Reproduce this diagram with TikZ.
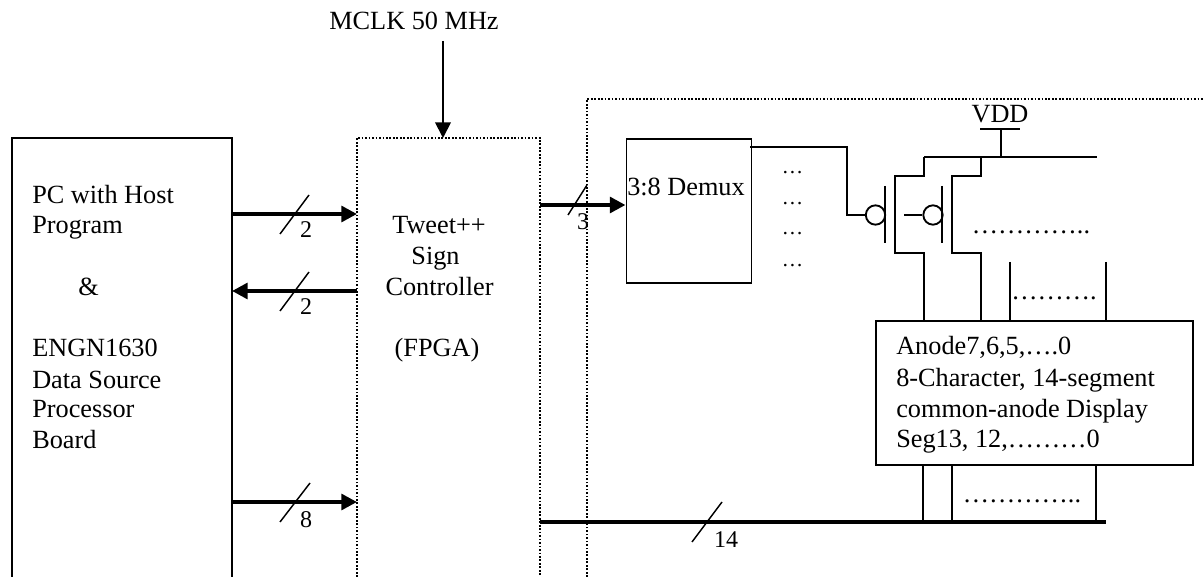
\documentclass[tikz,border=0pt]{standalone}
\usepackage{fontspec}
\setmainfont{Liberation Serif}
\usetikzlibrary{arrows.meta}
\tikzset{
 x=0.75pt,y=-0.75pt,
 thin line/.style={line width=1.4pt,line join=miter},
 bus/.style={line width=3.2pt},
 sig/.style={bus,-{Triangle[length=11.8pt,width=11.8pt]}},
 dot box/.style={line width=1.3pt,dash pattern=on 1.3pt off 1.3pt},
 lab/.style={inner sep=0pt,anchor=base,font=\fontsize{19.7}{20}\selectfont},
 labl/.style={lab,anchor=base west},
 small/.style={lab,font=\fontsize{18}{18}\selectfont},
 block/.style={draw,line width=1.4pt,inner sep=0pt,minimum width=0pt},
 bub/.style={circle,draw,line width=1.4pt,inner sep=0pt,minimum size=14.5pt},
 slash/.style={line width=1.1pt},
 dots/.style={lab,font=\fontsize{16}{16}\selectfont},
 longdots/.style={lab},
}
\begin{document}
\begin{tikzpicture}
\useasboundingbox (0,0) rectangle (1204,577);
% open boxes
\coordinate (pcbl) at (12,577); \coordinate (pctl) at (12,138); \coordinate (pctr) at (232,138); \coordinate (pcbr) at (232,577);
\coordinate (cbl) at (357,577); \coordinate (ctl) at (357,138); \coordinate (ctr) at (540,138); \coordinate (cbr) at (540,577);
\coordinate (obl) at (587,577); \coordinate (otl) at (587,99); \coordinate (otr) at (1204,99);
\draw[thin line] (pcbl) -- (pctl) -- (pctr) -- (pcbr);
\draw[dot box] (cbl) -- (ctl) -- (ctr) -- (cbr);
\draw[dot box] (obl) -- (otl) -- (otr);
% clock
\node[lab] (mclk) at (414,29.5) {MCLK 50 MHz};
\coordinate (mclka) at (443,41);
\coordinate (mclkb) at (443,138);
\draw[thin line,-{Triangle[length=11.8pt,width=11.8pt]}] (mclka) -- (mclkb);
% PC text
\node[labl] (t1) at (32,204) {PC with Host};
\node[labl] (t2) at (32,234) {Program};
\node[labl] (t3) at (78,296) {\&};
\node[labl] (t4) at (32,357) {ENGN1630};
\node[labl] (t5) at (32,388) {Data Source};
\node[labl] (t6) at (32,418) {Processor};
\node[labl] (t7) at (32,449) {Board};
% controller text
\node[lab] (c1) at (439,234) {Tweet++};
\node[lab] (c2) at (435.5,265) {Sign};
\node[lab] (c3) at (439.5,296) {Controller};
\node[lab] (c4) at (437,357) {(FPGA)};
% arrows
\coordinate (a1s) at (232,214); \coordinate (a1e) at (357,214);
\coordinate (a2s) at (357,291); \coordinate (a2e) at (232,291);
\coordinate (a3s) at (232,502); \coordinate (a3e) at (357,502);
\draw[sig] (a1s) -- (a1e);
\draw[sig] (a2s) -- (a2e);
\draw[sig] (a3s) -- (a3e);
\coordinate (s1a) at (280,234); \coordinate (s1b) at (309,195);
\coordinate (s2a) at (280,311); \coordinate (s2b) at (309,272);
\coordinate (s3a) at (280,522); \coordinate (s3b) at (310,483);
\draw[slash] (s1a) -- (s1b);
\draw[slash] (s2a) -- (s2b);
\draw[slash] (s3a) -- (s3b);
\node[small] (n2a) at (306,238) {2};
\node[small] (n2b) at (306,315) {2};
\node[small] (n8) at (306,527) {8};
% demux
\node[block,minimum width=93.75pt,minimum height=107.6pt,anchor=north west] (demux) at (625.5,138.5) {};
\node[lab] (dmt) at (686,195.5) {3:8 Demux};
\coordinate (a4s) at (540,205);
\draw[sig] (a4s) -- (a4s -| demux.west);
\coordinate (s4a) at (568,215); \coordinate (s4b) at (587,185);
\draw[slash] (s4a) -- (s4b);
\node[small] (n3) at (583,230) {3};
% demux output dots
\node[dots] (d1) at (792.5,174) {…};
\node[dots] (d2) at (792.5,205) {…};
\node[dots] (d3) at (792.5,235) {…};
\node[dots] (d4) at (792.5,267) {…};
% transistors
\coordinate (dout) at (750,147);
\node[bub] (b1) at (875.5,215) {};
\node[bub] (b2) at (933,215) {};
\draw[thin line] (dout) -- (847,147) -- (847,215) -- (b1.west);
\coordinate (g1a) at (885,186); \coordinate (g1b) at (885,243);
\coordinate (g2a) at (942,186); \coordinate (g2b) at (942,243);
\draw[thin line] (g1a) -- (g1b);
\draw[thin line] (g2a) -- (g2b);
\coordinate (st2) at (904,215);
\draw[thin line] (st2) -- (b2.west);
% display
\node[block,minimum width=237.75pt,minimum height=108pt,anchor=north west] (disp) at (875,320) {};
\coordinate (railL) at (924,157); \coordinate (railR) at (1097,157); \coordinate (vddj) at (1001,157); \coordinate (vddt) at (1001,129);
\coordinate (vbl) at (980,129); \coordinate (vbr) at (1020,129);
\draw[line width=1.6pt] (railL) -- (railR);
\draw[thin line] (vddj) -- (vddt);
\draw[thin line] (vbl) -- (vbr);
\node[lab] (vdd) at (1000,123) {VDD};
\coordinate (d1b) at (924,320); \coordinate (d2b) at (981,320);
\coordinate (d2t) at (981,157);
\draw[thin line] (railL) -- (924,176) -- (895,176) -- (895,253) -- (924,253) -- (d1b);
\draw[thin line] (d2t) -- (981,176) -- (952,176) -- (952,253) -- (981,253) -- (d2b);
\coordinate (l3t) at (1010,262); \coordinate (l3b) at (1010,320);
\coordinate (l4t) at (1106,262); \coordinate (l4b) at (1106,320);
\draw[thin line] (l3t) -- (l3b);
\draw[thin line] (l4t) -- (l4b);
\node[longdots] (dd1) at (1031,234) {…………..};
\node[longdots] (dd2) at (1054,300) {……….};
% display text
\node[labl] (e1) at (896,355) {Anode7,6,5,….0};
\node[labl] (e2) at (896,387) {8-Character, 14-segment};
\node[labl] (e3) at (896,417) {common-anode Display};
\node[labl] (e4) at (896,447) {Seg13, 12,………0};
% bus
\coordinate (busl) at (540,522); \coordinate (busr) at (1106,522);
\draw[bus] (busl) -- (busr);
\coordinate (p1) at (923,464); \coordinate (p1b) at (923,522);
\coordinate (p2) at (952,464); \coordinate (p2b) at (952,522);
\coordinate (p3) at (1096,464); \coordinate (p3b) at (1096,522);
\draw[thin line] (p1) -- (p1b);
\draw[thin line] (p2) -- (p2b);
\draw[thin line] (p3) -- (p3b);
\node[longdots] (dd3) at (1022,502) {…………..};
\coordinate (s5a) at (692,542); \coordinate (s5b) at (722,502);
\draw[slash] (s5a) -- (s5b);
\node[small] (n14) at (726,547) {14};
\end{tikzpicture}
\end{document}
